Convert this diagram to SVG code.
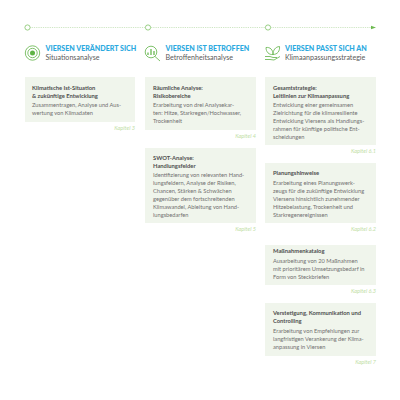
<svg xmlns="http://www.w3.org/2000/svg" width="400" height="400" viewBox="0 0 400 400">
<style>
text{font-family:Lato,"Open Sans",sans-serif}
.box{fill:#f0f5ec}
.t{font-size:5.8px;font-weight:700;fill:#4f4f4f}
.b{font-size:5.7px;fill:#707070}
.k{font-size:5.6px;font-style:italic;fill:#bfe0a6;text-anchor:end}
.h{font-size:7.1px;font-weight:900;fill:#2ba9e0}
.s{font-size:7.1px;fill:#5a5a5a}
.ic{fill:none;stroke:#5fb346;stroke-width:.8}
.dot{fill:#fff;stroke:#8fc978;stroke-width:.9}
</style>
<g id="connectors">
<path d="M30.500 27.500H145M151 27.500H265.500M271.500 27.500H371" fill="none" stroke="#a9d396" stroke-width=".7" stroke-dasharray=".8 1"/>
<path d="M371 25.800L376 27.500L371 29.200Z" fill="#6cb94f"/>
</g>
<g id="timeline-1"><circle class="dot" cx="27.500" cy="27.500" r="2.600"/></g>
<g id="timeline-2"><circle class="dot" cx="148" cy="27.500" r="2.600"/></g>
<g id="timeline-3"><circle class="dot" cx="268" cy="27.500" r="2.600"/></g>
<g id="head-1">
<circle class="ic" cx="32.500" cy="53" r="7.200" stroke-width="1"/><circle class="ic" cx="32.500" cy="53" r="4.700"/><circle cx="32.500" cy="53" r="2.500" fill="#5fb346"/>
<text class="h" x="45.500" y="51.200">VIERSEN VERÄNDERT SICH</text>
<text class="s" x="45.500" y="60.200">Situationsanalyse</text>
</g>
<g id="head-2">
<circle class="ic" cx="151" cy="52" r="5.800"/><path class="ic" d="M155 56.500L160 61"/>
<path d="M148 55V52.500M151 55V49M154 55V51" stroke="#5fb346" stroke-width="1.200" fill="none"/>
<text class="h" x="165.500" y="51.200">VIERSEN IST BETROFFEN</text>
<text class="s" x="165.500" y="60.200">Betroffenheitsanalyse</text>
</g>
<g id="head-3">
<path class="ic" d="M273 54.500C269 55 266 52 266 47.500C270 47 273 49.500 273 54.500C273 50 275.500 46.800 279.500 46.500C280 51 277.500 54.500 273 54.500Z"/>
<path class="ic" d="M265 56.500H270L273 57.500H277M265 59.500H270L274 60L280 56.500"/>
<text class="h" x="285" y="51.200">VIERSEN PASST SICH AN</text>
<text class="s" x="285" y="60.200">Klimaanpassungsstrategie</text>
</g>
<g id="card-1">
<rect class="box" x="25" y="77" width="110" height="45"/>
<text class="t" x="32" y="89.500">Klimatische Ist-Situation</text>
<text class="t" x="32" y="97.500">&amp; zukünftige Entwicklung</text>
<text class="b" x="32" y="106.800">Zusammentragen, Analyse und Aus-</text>
<text class="b" x="32" y="114.800">wertung von Klimadaten</text>
<text class="k" x="135" y="130">Kapitel 3</text>
</g>
<g id="card-2">
<rect class="box" x="145" y="77" width="111" height="53"/>
<text class="t" x="153" y="89.500">Räumliche Analyse:</text>
<text class="t" x="153" y="97.500">Risikobereiche</text>
<text class="b" x="153" y="106.800">Erarbeitung von drei Analysekar-</text>
<text class="b" x="153" y="114.800">ten: Hitze, Starkregen/Hochwasser,</text>
<text class="b" x="153" y="122.800">Trockenheit</text>
<text class="k" x="256" y="138">Kapitel 4</text>
</g>
<g id="card-3">
<rect class="box" x="145" y="148" width="111" height="75"/>
<text class="t" x="153" y="159.500">SWOT-Analyse:</text>
<text class="t" x="153" y="167.500">Handlungsfelder</text>
<text class="b" x="153" y="176.800">Identifizierung von relevanten Hand-</text>
<text class="b" x="153" y="184.800">lungsfeldern, Analyse der Risiken,</text>
<text class="b" x="153" y="192.800">Chancen, Stärken &amp; Schwächen</text>
<text class="b" x="153" y="200.800">gegenüber dem fortschreitenden</text>
<text class="b" x="153" y="208.800">Klimawandel, Ableitung von Hand-</text>
<text class="b" x="153" y="216.800">lungsbedarfen</text>
<text class="k" x="256" y="231">Kapitel 5</text>
</g>
<g id="card-4">
<rect class="box" x="265" y="77" width="111" height="68"/>
<text class="t" x="273" y="89.500">Gesamtstrategie:</text>
<text class="t" x="273" y="97.500">Leitlinien zur Klimaanpassung</text>
<text class="b" x="273" y="106.800">Entwicklung einer gemeinsamen</text>
<text class="b" x="273" y="114.800">Zielrichtung für die klimaresiliente</text>
<text class="b" x="273" y="122.800">Entwicklung Viersens als Handlungs-</text>
<text class="b" x="273" y="130.800">rahmen für künftige politische Ent-</text>
<text class="b" x="273" y="138.800">scheidungen</text>
<text class="k" x="376" y="152.500">Kapitel 6.1</text>
</g>
<g id="card-5">
<rect class="box" x="265" y="163" width="111" height="60"/>
<text class="t" x="273" y="175">Planungshinweise</text>
<text class="b" x="273" y="184.800">Erarbeitung eines Planungswerk-</text>
<text class="b" x="273" y="192.800">zeugs für die zukünftige Entwicklung</text>
<text class="b" x="273" y="200.800">Viersens hinsichtlich zunehmender</text>
<text class="b" x="273" y="208.800">Hitzebelastung, Trockenheit und</text>
<text class="b" x="273" y="216.800">Starkregenereignissen</text>
<text class="k" x="376" y="231">Kapitel 6.2</text>
</g>
<g id="card-6">
<rect class="box" x="265" y="245" width="111" height="40"/>
<text class="t" x="273" y="253">Maßnahmenkatalog</text>
<text class="b" x="273" y="262.800">Ausarbeitung von 20 Maßnahmen</text>
<text class="b" x="273" y="270.800">mit prioritärem Umsetzungsbedarf in</text>
<text class="b" x="273" y="278.800">Form von Steckbriefen</text>
<text class="k" x="376" y="293">Kapitel 6.3</text>
</g>
<g id="card-7">
<rect class="box" x="265" y="303" width="111" height="53"/>
<text class="t" x="273" y="315">Verstetigung, Kommunikation und</text>
<text class="t" x="273" y="323">Controlling</text>
<text class="b" x="273" y="332.800">Erarbeitung von Empfehlungen zur</text>
<text class="b" x="273" y="340.800">langfristigen Verankerung der Klima-</text>
<text class="b" x="273" y="348.800">anpassung in Viersen</text>
<text class="k" x="376" y="364">Kapitel 7</text>
</g>
</svg>
